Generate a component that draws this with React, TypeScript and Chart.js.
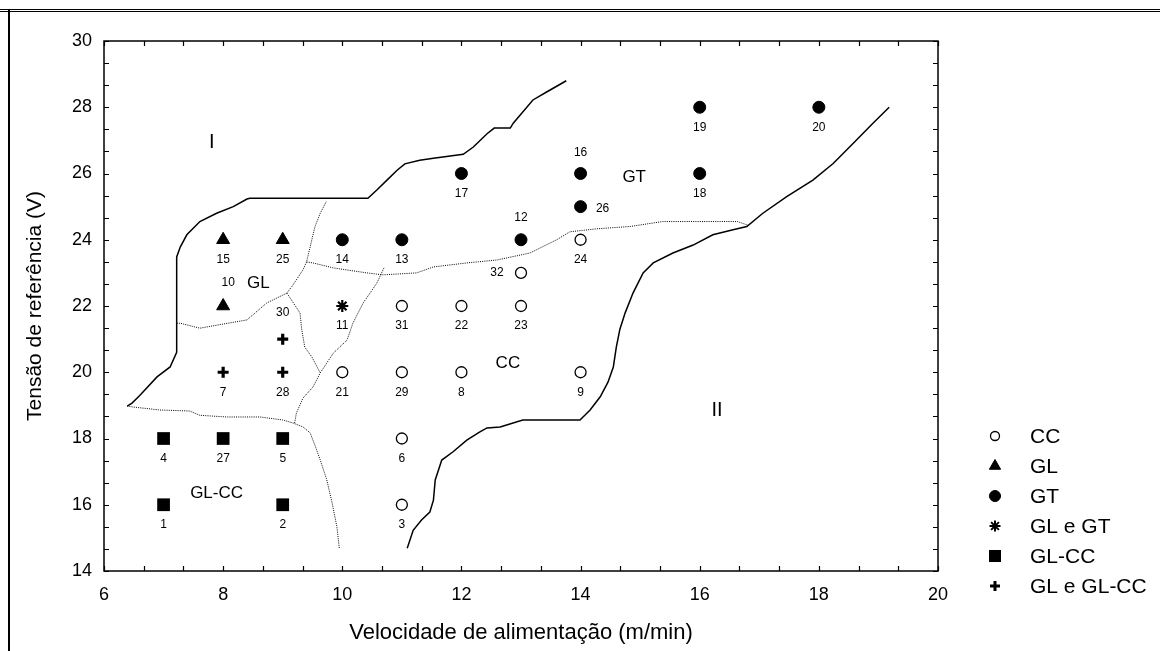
import React, { useEffect, useRef } from 'react';
import { Chart, registerables } from 'chart.js';
import { drawPoint } from 'chart.js/helpers';

Chart.register(...registerables);

const FONT = "'Liberation Sans', Arial, Helvetica, sans-serif";

// ---------- axes ----------
const X_MIN = 6;
const X_MAX = 20;
const Y_MIN = 14;
const Y_MAX = 30;
const MINOR_STEP = 2 / 3;
const LABEL_EVERY = 2;
const X_TITLE = 'Velocidade de alimentação (m/min)';
const Y_TITLE = 'Tensão de referência (V)';

// ---------- series (experiment points) ----------
const ccX = [11, 11, 10, 11, 12, 14, 11, 12, 13, 13, 14];
const ccY = [16, 18, 20, 20, 20, 20, 22, 22, 22, 23, 24];
const ccIds = ['3', '6', '21', '29', '8', '9', '31', '22', '23', '32', '24'];

const glX = [8, 9, 8];
const glY = [24, 24, 22];
const glIds = ['15', '25', '10'];

const gtX = [10, 11, 13, 12, 14, 14, 16, 16, 18];
const gtY = [24, 24, 24, 26, 26, 25, 26, 28, 28];
const gtIds = ['14', '13', '12', '17', '16', '26', '18', '19', '20'];

const glgtX = [10];
const glgtY = [22];
const glgtIds = ['11'];

const glccX = [7, 9, 7, 8, 9];
const glccY = [16, 16, 18, 18, 18];
const glccIds = ['1', '2', '4', '27', '5'];

const glglccX = [8, 9, 9];
const glglccY = [20, 20, 21];
const glglccIds = ['7', '28', '30'];

// ---------- region boundaries ----------
const boundaryI: [number, number][] = [
  [6.39, 18.98], [6.47, 19.07], [6.6, 19.3], [6.89, 19.86], [7.11, 20.16], [7.22, 20.6],
  [7.22, 23.48], [7.28, 23.78], [7.39, 24.15], [7.61, 24.55], [7.89, 24.8], [8.17, 25.0],
  [8.4, 25.23], [8.45, 25.25], [10.43, 25.25], [10.58, 25.5], [10.75, 25.8], [10.92, 26.1],
  [11.05, 26.29], [11.3, 26.4], [11.53, 26.46], [12.03, 26.58], [12.2, 26.8], [12.43, 27.2],
  [12.55, 27.37], [12.82, 27.37], [12.87, 27.52], [13.2, 28.22], [13.43, 28.46], [13.76, 28.8],
];
const boundaryII: [number, number][] = [
  [11.09, 14.69], [11.19, 15.23], [11.33, 15.54], [11.47, 15.78], [11.53, 16.14], [11.56, 16.75],
  [11.67, 17.35], [11.86, 17.6], [12.09, 17.95], [12.31, 18.2], [12.43, 18.32], [12.65, 18.35],
  [13.03, 18.56], [13.99, 18.56], [14.16, 18.86], [14.33, 19.26], [14.46, 19.7], [14.55, 20.16],
  [14.6, 20.76], [14.66, 21.3], [14.75, 21.8], [14.88, 22.39], [15.05, 23.0], [15.22, 23.3],
  [15.55, 23.6], [15.89, 23.84], [16.22, 24.15], [16.56, 24.3], [16.79, 24.4], [17.06, 24.8],
  [17.46, 25.3], [17.9, 25.8], [18.24, 26.3], [18.57, 26.9], [18.9, 27.5], [19.18, 28.0],
];
const dottedGlcc: [number, number][] = [
  [6.39, 18.98], [6.49, 18.95], [6.94, 18.86], [7.44, 18.83], [7.61, 18.7], [8.06, 18.65],
  [8.62, 18.65], [9.0, 18.56], [9.17, 18.47], [9.34, 18.35], [9.46, 18.17], [9.54, 17.8],
  [9.63, 17.35], [9.74, 16.75], [9.83, 16.05], [9.91, 15.33], [9.95, 14.69],
];
const dottedCcLeft: [number, number][] = [
  [9.2, 18.47], [9.23, 18.77], [9.34, 19.22], [9.51, 19.56], [9.63, 19.98], [9.85, 20.58],
  [10.08, 20.97], [10.18, 21.49], [10.35, 22.09], [10.58, 22.69], [10.7, 23.15],
];
const dottedGlTop: [number, number][] = [
  [7.22, 21.48], [7.28, 21.48], [7.61, 21.33], [7.89, 21.42], [8.4, 21.58], [8.73, 22.09],
  [9.07, 22.39], [9.17, 22.63], [9.34, 23.09], [9.4, 23.33], [9.46, 23.78], [9.54, 24.39],
  [9.63, 24.8], [9.73, 25.15],
];
const dottedGtCc: [number, number][] = [
  [9.4, 23.33], [9.51, 23.3], [9.85, 23.15], [10.41, 23.0], [10.68, 22.94], [11.25, 23.0],
  [11.53, 23.18], [12.09, 23.3], [12.6, 23.39], [13.15, 23.6], [13.6, 24.0], [13.82, 24.24],
  [14.27, 24.33], [14.83, 24.4], [15.38, 24.55], [16.63, 24.55], [16.81, 24.44],
];
const dottedGlMid: [number, number][] = [
  [9.07, 22.39], [9.29, 21.79], [9.32, 21.28], [9.37, 20.76], [9.49, 20.46], [9.63, 19.98],
];

// ---------- region annotations ----------
const regionTexts = ['I', 'II', 'GL', 'GT', 'CC', 'GL-CC'];
const regionX = [7.81, 16.29, 8.59, 14.9, 12.78, 7.89];
const regionY = [26.95, 18.86, 22.69, 25.9, 20.28, 16.35];

// ---------- label placement (style) ----------
const LABEL_OFFSETS: Record<string, [number, number]> = {
  '12': [0, -22],
  '16': [0, -21],
  '26': [22, 2],
  '32': [-24, 0],
  '10': [5, -23],
  '30': [0, -26],
};
const DEFAULT_LABEL_OFFSET: [number, number] = [0, 20];

const toPoints = (xs: number[], ys: number[]) => xs.map((x, i) => ({ x, y: ys[i] }));
const pairsToPoints = (p: [number, number][]) => p.map(([x, y]) => ({ x, y }));

function makeTicks(min: number, max: number) {
  const n = Math.round((max - min) / MINOR_STEP);
  const out: { value: number }[] = [];
  for (let i = 0; i <= n; i++) out.push({ value: min + i * MINOR_STEP });
  return out;
}
function tickLabel(value: any) {
  const v = Number(value);
  const r = Math.round(v);
  return Math.abs(v - r) < 1e-6 && r % LABEL_EVERY === 0 ? String(r) : '';
}

const pageFrame = {
  id: 'pageFrame',
  beforeDraw(chart: any) {
    const ctx = chart.ctx;
    ctx.save();
    ctx.fillStyle = '#fff';
    ctx.fillRect(0, 0, chart.width, chart.height);
    ctx.restore();
  },
  afterDraw(chart: any) {
    const ctx = chart.ctx;
    const { left, right, top, bottom } = chart.chartArea;
    ctx.save();
    ctx.fillStyle = '#000';
    ctx.fillRect(0, 9, chart.width, 1);
    ctx.fillRect(0, 11, chart.width, 1);
    ctx.fillRect(8, 9, 2, chart.height - 9);
    ctx.strokeStyle = '#000';
    ctx.lineWidth = 1.5;
    ctx.strokeRect(left, top, right - left, bottom - top);
    const TL = 5;
    ctx.lineWidth = 1.2;
    ctx.beginPath();
    const xs = chart.scales.x;
    xs.ticks.forEach((t: any) => {
      const px = Math.round(xs.getPixelForValue(t.value)) + 0.5;
      ctx.moveTo(px, bottom);
      ctx.lineTo(px, bottom - TL);
      ctx.moveTo(px, top);
      ctx.lineTo(px, top + TL);
    });
    const ys = chart.scales.y;
    ys.ticks.forEach((t: any) => {
      const py = Math.round(ys.getPixelForValue(t.value)) + 0.5;
      ctx.moveTo(left, py);
      ctx.lineTo(left + TL, py);
      ctx.moveTo(right, py);
      ctx.lineTo(right - TL, py);
    });
    ctx.stroke();
    ctx.restore();
  },
};

const annotations = {
  id: 'annotations',
  afterDatasetsDraw(chart: any) {
    const ctx = chart.ctx;
    const xs = chart.scales.x;
    const ys = chart.scales.y;
    ctx.save();
    ctx.fillStyle = '#000';
    ctx.textAlign = 'center';
    ctx.textBaseline = 'middle';
    ctx.font = `12px ${FONT}`;
    chart.data.datasets.forEach((ds: any, i: number) => {
      if (!ds.ids) return;
      const meta = chart.getDatasetMeta(i);
      meta.data.forEach((el: any, j: number) => {
        const id = ds.ids[j];
        const off = LABEL_OFFSETS[id] || DEFAULT_LABEL_OFFSET;
        ctx.fillText(id, el.x + off[0], el.y + off[1]);
      });
    });
    regionTexts.forEach((t, k) => {
      const big = t === 'I' || t === 'II';
      ctx.font = `${big ? 20 : 17}px ${FONT}`;
      ctx.fillText(t, xs.getPixelForValue(regionX[k]), ys.getPixelForValue(regionY[k]));
    });
    ctx.restore();
  },
};

const LEGEND_SYMBOL_X = 995;
const LEGEND_TEXT_X = 1030;
const LEGEND_FIRST_Y = 436;
const LEGEND_ROW = 30;

const sideLegend = {
  id: 'sideLegend',
  afterDraw(chart: any) {
    const ctx = chart.ctx;
    ctx.save();
    ctx.font = `21px ${FONT}`;
    ctx.textAlign = 'left';
    ctx.textBaseline = 'middle';
    let k = 0;
    chart.data.datasets.forEach((ds: any) => {
      if (!ds.ids) return;
      const y = LEGEND_FIRST_Y + k * LEGEND_ROW;
      ctx.fillStyle = ds.backgroundColor;
      ctx.strokeStyle = ds.borderColor;
      ctx.lineWidth = ds.legendBorder;
      drawPoint(ctx, { pointStyle: ds.pointStyle, radius: ds.legendRadius, rotation: 0, borderWidth: ds.legendBorder } as any, LEGEND_SYMBOL_X, y);
      ctx.fillStyle = '#000';
      ctx.fillText(ds.label, LEGEND_TEXT_X, y + 1);
      k++;
    });
    ctx.restore();
  },
};

export default function App() {
  const ref = useRef<HTMLCanvasElement | null>(null);

  useEffect(() => {
    if (!ref.current) return;
    Chart.defaults.font.family = FONT;
    const boundary = (data: [number, number][], dotted: boolean) => ({
      type: 'line' as const,
      data: pairsToPoints(data),
      showLine: true,
      borderColor: '#000',
      borderWidth: dotted ? 1 : 1.5,
      borderDash: dotted ? [1, 1.2] : [],
      pointRadius: 0,
      pointHoverRadius: 0,
      tension: 0,
      fill: false,
    });
    const chart = new Chart(ref.current, {
      type: 'scatter',
      data: {
        datasets: [
          {
            label: 'CC', ids: ccIds, data: toPoints(ccX, ccY), pointStyle: 'circle',
            pointRadius: 5.5, backgroundColor: '#fff', borderColor: '#000', borderWidth: 1.3,
            legendRadius: 4.5, legendBorder: 1.3,
          },
          {
            label: 'GL', ids: glIds, data: toPoints(glX, glY), pointStyle: 'triangle',
            pointRadius: 7.5, backgroundColor: '#000', borderColor: '#000', borderWidth: 1,
            legendRadius: 6.5, legendBorder: 1,
          },
          {
            label: 'GT', ids: gtIds, data: toPoints(gtX, gtY), pointStyle: 'circle',
            pointRadius: 6, backgroundColor: '#000', borderColor: '#000', borderWidth: 1,
            legendRadius: 5.5, legendBorder: 1,
          },
          {
            label: 'GL e GT', ids: glgtIds, data: toPoints(glgtX, glgtY), pointStyle: 'star',
            pointRadius: 6, backgroundColor: '#000', borderColor: '#000', borderWidth: 2.2,
            legendRadius: 5.5, legendBorder: 2,
          },
          {
            label: 'GL-CC', ids: glccIds, data: toPoints(glccX, glccY), pointStyle: 'rect',
            pointRadius: 9, backgroundColor: '#000', borderColor: '#000', borderWidth: 0,
            legendRadius: 8.5, legendBorder: 0,
          },
          {
            label: 'GL e GL-CC', ids: glglccIds, data: toPoints(glglccX, glglccY), pointStyle: 'cross',
            pointRadius: 5.5, backgroundColor: '#000', borderColor: '#000', borderWidth: 3.2,
            legendRadius: 5, legendBorder: 3,
          },
          boundary(boundaryI, false),
          boundary(boundaryII, false),
          boundary(dottedGlcc, true),
          boundary(dottedCcLeft, true),
          boundary(dottedGlTop, true),
          boundary(dottedGtCc, true),
          boundary(dottedGlMid, true),
        ] as any,
      },
      options: {
        responsive: false,
        animation: false,
        events: [],
        layout: { padding: { top: 41, right: 222, bottom: 0, left: 0 } },
        plugins: {
          legend: { display: false },
          tooltip: { enabled: false },
        },
        scales: {
          x: {
            type: 'linear',
            min: X_MIN,
            max: X_MAX,
            afterBuildTicks: (s: any) => { s.ticks = makeTicks(X_MIN, X_MAX); },
            afterFit: (s: any) => { s.height = 80; },
            grid: { display: false, drawTicks: false },
            border: { display: false },
            ticks: {
              autoSkip: false, maxRotation: 0, padding: 13, color: '#000',
              font: { family: FONT, size: 18 }, callback: tickLabel,
            },
            title: {
              display: true, text: X_TITLE, color: '#000',
              font: { family: FONT, size: 22 }, padding: { top: 0, bottom: 5 },
            },
          },
          y: {
            type: 'linear',
            min: Y_MIN,
            max: Y_MAX,
            afterBuildTicks: (s: any) => { s.ticks = makeTicks(Y_MIN, Y_MAX); },
            afterFit: (s: any) => { s.width = 104; },
            grid: { display: false, drawTicks: false },
            border: { display: false },
            ticks: {
              autoSkip: false, padding: 12, color: '#000',
              font: { family: FONT, size: 18 }, callback: tickLabel,
            },
            title: {
              display: true, text: Y_TITLE, color: '#000',
              font: { family: FONT, size: 21 }, padding: { top: 23, bottom: 0 },
            },
          },
        },
      } as any,
      plugins: [pageFrame, annotations, sideLegend],
    });
    return () => chart.destroy();
  }, []);

  return (
    <div style={{ position: 'absolute', left: 0, top: 0, width: 1160, height: 651, background: '#fff' }}>
      <canvas ref={ref} width={1160} height={651} style={{ display: 'block' }} />
    </div>
  );
}
